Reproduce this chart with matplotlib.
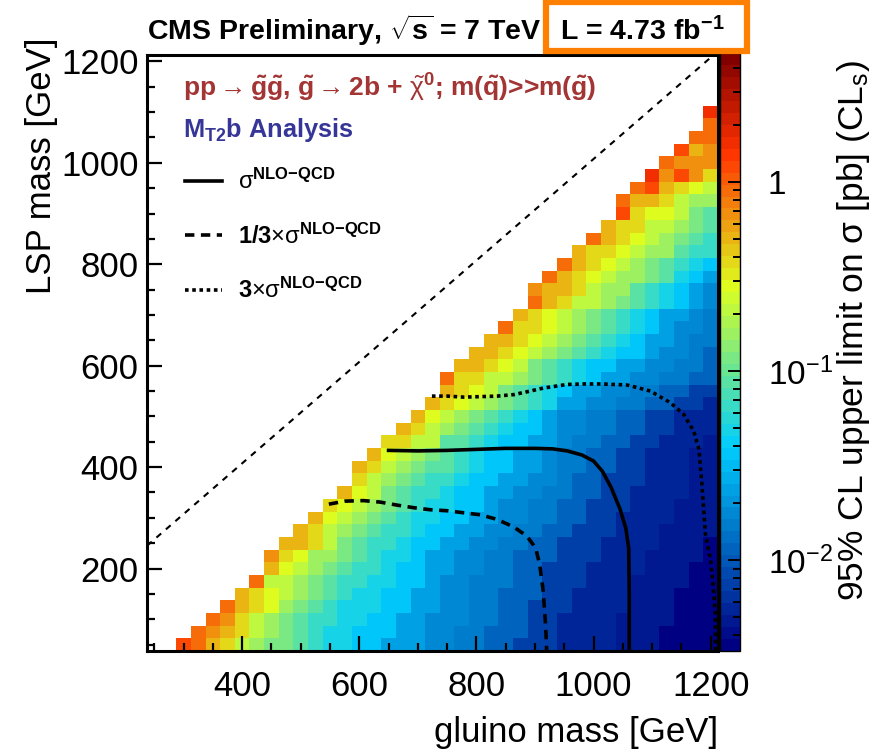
import numpy as np
import matplotlib
matplotlib.use('Agg')
import matplotlib.pyplot as plt
from matplotlib.colors import LinearSegmentedColormap, LogNorm
from matplotlib.patches import Rectangle
from matplotlib.ticker import MultipleLocator, LogLocator

plt.rcParams['font.family'] = ['Liberation Sans', 'DejaVu Sans']
plt.rcParams['mathtext.fontset'] = 'custom'
plt.rcParams['mathtext.rm'] = 'Liberation Sans'
plt.rcParams['mathtext.it'] = 'Liberation Sans:italic'
plt.rcParams['mathtext.bf'] = 'Liberation Sans:bold'

# scan grid (bin centres, GeV)
gluino_mass = np.arange(250, 1201, 25)
lsp_mass = np.arange(50, 1101, 25)

# z range of the palette (pb)
zmin, zmax = 0.0033, 4.8

# colour step of each filled cell (LSP = 50, 75, ...)
# rows are right-aligned: the last letter is the 1200 GeV column
# 'a' = bottom of the palette ... 'z' = top, 25 steps across the colour bar
cell_steps = [
    "utrqonmmlkjjiihhhggffeedddccccbbbaaaa",
    "tsrqonmlkjjiiihhggffeeeddccccbbbaaaa",
    "tsqonmlkkjjiihhgggffeeddccccbbbbaaa",
    "trqpnmlkjjjiihhggffeedddccccbbbaaa",
    "rqponmlkjjiihhggffeeeddccccbbbaaa",
    "toonmlkkjjiihggfffeedddcccbbbbaa",
    "rponmlkkjiihhggffeedddccccbbbaa",
    "sqpnnmlkjjihhggffeeedddcccbbbba",
    "rrqomlkkjiihhggffeedddccccbbba",
    "rqonmlkkjiihhggffeedddcccbbbb",
    "rponmlkjjiihhggffeeddccccbbb",
    "qponmlkjjiihggffeedddcccbbb",
    "rpomlkkjiihhggffeeddccccbb",
    "qonmlkkjiihhggfeedddcccbb",
    "rqonmllkjiihhgffeeddcccbb",
    "rponmlkjiihhgffeeddcccbb",
    "qqoollkjiihhgffeeddcccb",
    "rqonmlkjiihggffeeddccc",
    "rponmlkjihggffeeddccc",
    "rqponmlkjhhggffeeddc",
    "rqpomlkjihhggffeedd",
    "tqqoonmlkjihhggffee",
    "rrqpomlkjiihhggffe",
    "rrqponmlkjiihggfe",
    "rrqponmlkjihhgff",
    "tqqponmlkjihggf",
    "rqponmlkjihhgf",
    "trqoonmlkjihg",
    "srrqonnlkjihg",
    "trqponnmljih",
    "trqponmlkji",
    "rqqponnlkk",
    "trqponmlk",
    "rqqoonml",
    "uqppoml",
    "trrqonn",
    "turqpo",
    "vsusq",
    "tsss",
    "urs",
    "tt",
    "t",
    "v",
]

# exclusion contours (gluino, LSP) in GeV
obs_gluino = [650, 700, 750, 800, 850, 900, 930, 955, 980, 1000, 1015, 1030, 1045, 1055, 1060, 1061, 1061]
obs_lsp = [433, 432, 433, 435, 437, 437, 436, 432, 424, 412, 392, 360, 318, 280, 240, 150, 37.5]

third_gluino = [548, 576, 607, 636, 665, 693, 721, 750, 778, 807, 835, 864, 886, 901, 908, 914, 918, 920]
third_lsp = [327, 333, 334, 331, 325, 320, 316, 314, 310, 306, 297, 282, 264, 241, 208, 156, 90, 37.5]

three_gluino = [724, 750, 778, 807, 835, 864, 892, 915, 955, 985, 1012, 1057, 1097, 1131, 1154, 1171,
                1180, 1185, 1191, 1200, 1205, 1208, 1208]
three_lsp = [540, 540, 538, 539, 540, 543, 550, 556, 563, 564, 564, 562, 550, 527, 504, 471,
             435, 366, 268, 215, 156, 103, 37.5]

# kinematic limit m(LSP) = m(gluino)
diag_gluino = [237.5, 1205]
diag_lsp = [245, 1212.5]

# ROOT style rainbow palette
stops = [0.00, 0.34, 0.61, 0.84, 1.00]
red = [0.00, 0.00, 0.87, 1.00, 0.51]
green = [0.00, 0.81, 1.00, 0.20, 0.00]
blue = [0.51, 1.00, 0.12, 0.00, 0.00]
cdict = {'red': [(s, v, v) for s, v in zip(stops, red)],
         'green': [(s, v, v) for s, v in zip(stops, green)],
         'blue': [(s, v, v) for s, v in zip(stops, blue)]}
cmap = LinearSegmentedColormap('root', cdict, N=50)

# build the limit map from the colour steps
steps = np.full((len(lsp_mass), len(gluino_mass)), np.nan)
for i, row in enumerate(cell_steps):
    for j, ch in enumerate(row):
        steps[i, len(gluino_mass) - len(row) + j] = ord(ch) - ord('a')
lo, hi = np.log10(zmin), np.log10(zmax)
limit = 10 ** (lo + steps / 25 * (hi - lo))

x_edges = np.append(gluino_mass - 12.5, gluino_mass[-1] + 12.5)
y_edges = np.append(lsp_mass - 12.5, lsp_mass[-1] + 12.5)

fig = plt.figure(figsize=(8.83, 7.54), dpi=100)
ax = fig.add_axes([147 / 883, 1 - 651 / 754, 571 / 883, 596 / 754])
cax = fig.add_axes([720 / 883, 1 - 651 / 754, 20 / 883, 598 / 754])

mesh = ax.pcolormesh(x_edges, y_edges, np.ma.masked_invalid(limit), cmap=cmap,
                     norm=LogNorm(zmin, zmax))

ax.plot(diag_gluino, diag_lsp, color='black', lw=1.5, dashes=(3, 3))
l_obs, = ax.plot(obs_gluino, obs_lsp, color='black', lw=2.6)
l_third, = ax.plot(third_gluino, third_lsp, color='black', lw=2.6, dashes=(2.6, 1.8))
l_three, = ax.plot(three_gluino, three_lsp, color='black', lw=2.6, dashes=(1.0, 1.0))

ax.set_xlim(237.5, 1212.5)
ax.set_ylim(37.5, 1212.5)
ax.set_xticks([400, 600, 800, 1000, 1200])
ax.set_yticks([200, 400, 600, 800, 1000, 1200])
ax.xaxis.set_minor_locator(MultipleLocator(50))
ax.yaxis.set_minor_locator(MultipleLocator(50))
ax.tick_params(which='both', direction='in', top=False, right=False, width=1.6, labelsize=25)
ax.tick_params(which='major', length=11)
ax.tick_params(which='minor', length=6)
ax.tick_params(axis='x', pad=14)
ax.tick_params(axis='y', pad=6)
for sp in ax.spines.values():
    sp.set_linewidth(2.2)

ax.set_xlabel('gluino mass [GeV]', fontsize=25, loc='right', labelpad=9)
ax.set_ylabel('LSP mass [GeV]', fontsize=25, loc='top')
ax.yaxis.set_label_coords(-0.155, 1.03)

cb = fig.colorbar(mesh, cax=cax)
cb.set_ticks([0.01, 0.1, 1])
cb.set_ticklabels(['10$^{-2}$', '10$^{-1}$', '1'])
cax.yaxis.set_minor_locator(LogLocator(subs=np.arange(2, 10)))
cax.tick_params(which='both', direction='in', labelsize=24, pad=20, width=1.4)
cax.tick_params(which='major', length=9)
cax.tick_params(which='minor', length=5)
cb.outline.set_linewidth(1.0)
cb.set_label(r'95% CL upper limit on $\mathrm{\sigma}$ [pb] (CL$_{\mathrm{s}}$)', fontsize=25.5)
cax.yaxis.set_label_coords(5.75, 0.535)

ax.legend([l_obs, l_third, l_three],
          [r'$\mathrm{\sigma}^{\mathbf{NLO{-}QCD}}$',
           r'1/3$\times\mathrm{\sigma}^{\mathbf{NLO{-}QCD}}$',
           r'3$\times\mathrm{\sigma}^{\mathbf{NLO{-}QCD}}$'],
          loc='upper left', bbox_to_anchor=(0.037, 0.837), frameon=False,
          prop={'size': 17, 'weight': 'bold'}, handlelength=1.6, handletextpad=0.65,
          labelspacing=1.25, borderpad=0.2)

ax.text(0.063, 0.945, 'pp$\\rightarrow\\mathbf{\\tilde{g}\\tilde{g}}$, $\\mathbf{\\tilde{g}}\\rightarrow$2b + '
        '$\\mathrm{\\tilde{\\chi}}^{\\mathbf{0}}$; m($\\mathbf{\\tilde{q}}$)>>m($\\mathbf{\\tilde{g}}$)',
        transform=ax.transAxes, fontsize=19, fontweight='bold', color='#A33535', va='center')
ax.text(0.063, 0.875, r'M$_{\mathbf{T2}}$b Analysis', transform=ax.transAxes, fontsize=18.3,
        fontweight='bold', color='#363699', va='center')

fig.text(147 / 883, 1 - 40 / 754, r'CMS Preliminary, $\sqrt{\mathbf{s}}$ = 7 TeV', fontsize=20.5,
         fontweight='bold')
fig.text(560 / 883, 1 - 40 / 754, r'L = 4.73 fb$^{\mathbf{-1}}$', fontsize=20.5, fontweight='bold')
fig.add_artist(Rectangle((546 / 883, 1 - 51 / 754), 201 / 883, 49 / 754, transform=fig.transFigure,
                         fill=False, edgecolor='#FF8000', lw=4.5, clip_on=False))

fig.savefig('out.png', dpi=100)
